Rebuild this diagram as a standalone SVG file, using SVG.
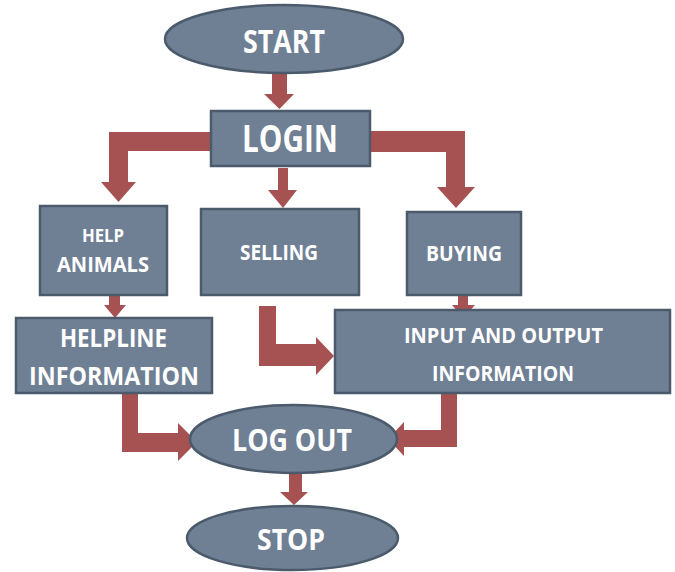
<svg xmlns="http://www.w3.org/2000/svg" width="675" height="572" viewBox="0 0 675 572">
<defs>
<style>
.n{fill:#6f8095;stroke:#4b5b6c;stroke-width:2.5}
.a{fill:#a65252;stroke:none}
.t{fill:#ffffff;font-family:"Open Sans","Liberation Sans",sans-serif;font-weight:bold;text-anchor:middle}
</style>
</defs>
<rect width="675" height="572" fill="#ffffff"/>
<g id="connectors">
<polygon class="a" points="272,72 287,72 287,94 294,94 279.5,109 264,94 272,94"/>
<polygon class="a" points="213,132 213,151 128,151 128,182 136,182 118.5,202 101,182 109,182 109,132"/>
<polygon class="a" points="369,131 465,131 465,187 475,187 456,208 437,187 446,187 446,152 369,152"/>
<polygon class="a" points="278,168 288,168 288,190 297,190 283,208 268,190 278,190"/>
<polygon class="a" points="109,295 120,295 120,305 126,305 115,318 104,305 109,305"/>
<polygon class="a" points="259,306 276,306 276,344 316,344 316,337 334,356 316,375 316,366 259,366"/>
<polygon class="a" points="458,295 468,295 468,305 475,305 463.5,318 452,305 458,305"/>
<polygon class="a" points="122,392 138,392 138,433 178,433 178,423 197,442 178,461 178,452 122,452"/>
<polygon class="a" points="441,392 457,392 457,447 404,447 404,456 388,439 404,422 404,430 441,430"/>
<polygon class="a" points="289,472 302,472 302,492 308,492 294,505 280,492 289,492"/>
</g>
<g id="start">
<ellipse class="n" cx="284" cy="39" rx="119" ry="34"/>
<text class="t" x="284" y="53" font-size="32" textLength="82" lengthAdjust="spacingAndGlyphs">START</text>
</g>
<g id="login">
<rect class="n" x="211" y="111" width="159" height="55"/>
<text class="t" x="290" y="152" font-size="38" textLength="96" lengthAdjust="spacingAndGlyphs">LOGIN</text>
</g>
<g id="help-animals">
<rect class="n" x="40" y="206" width="127" height="89"/>
<text class="t" x="103" y="242" font-size="18" textLength="42" lengthAdjust="spacingAndGlyphs">HELP</text>
<text class="t" x="103" y="272" font-size="21" textLength="92" lengthAdjust="spacingAndGlyphs">ANIMALS</text>
</g>
<g id="selling">
<rect class="n" x="201" y="209" width="158" height="86"/>
<text class="t" x="279" y="260" font-size="22" textLength="78" lengthAdjust="spacingAndGlyphs">SELLING</text>
</g>
<g id="buying">
<rect class="n" x="407" y="212" width="114" height="83"/>
<text class="t" x="464" y="261" font-size="22" textLength="76" lengthAdjust="spacingAndGlyphs">BUYING</text>
</g>
<g id="helpline">
<rect class="n" x="16" y="318" width="196" height="75"/>
<text class="t" x="113.5" y="347" font-size="25" textLength="107" lengthAdjust="spacingAndGlyphs">HELPLINE</text>
<text class="t" x="114" y="385" font-size="25" textLength="170" lengthAdjust="spacingAndGlyphs">INFORMATION</text>
</g>
<g id="input-output">
<rect class="n" x="335" y="310" width="335" height="83"/>
<text class="t" x="503.5" y="343" font-size="22" textLength="199" lengthAdjust="spacingAndGlyphs">INPUT AND OUTPUT</text>
<text class="t" x="503" y="381" font-size="22" textLength="142" lengthAdjust="spacingAndGlyphs">INFORMATION</text>
</g>
<g id="logout">
<ellipse class="n" cx="293.5" cy="439" rx="103.5" ry="34"/>
<text class="t" x="292" y="451" font-size="31" textLength="120" lengthAdjust="spacingAndGlyphs">LOG OUT</text>
</g>
<g id="stop">
<ellipse class="n" cx="292.5" cy="538" rx="105.5" ry="32"/>
<text class="t" x="291" y="550" font-size="29" textLength="68" lengthAdjust="spacingAndGlyphs">STOP</text>
</g>
</svg>
